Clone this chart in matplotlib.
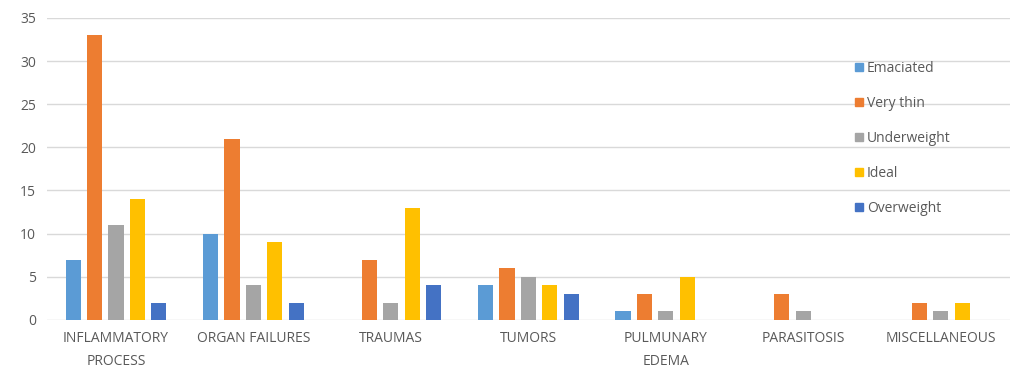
import numpy as np
import matplotlib
matplotlib.use("Agg")
import matplotlib.pyplot as plt
from matplotlib.lines import Line2D

categories = ["INFLAMMATORY\nPROCESS", "ORGAN FAILURES", "TRAUMAS", "TUMORS",
              "PULMUNARY\nEDEMA", "PARASITOSIS", "MISCELLANEOUS"]
series_names = ["Emaciated", "Very thin", "Underweight", "Ideal", "Overweight"]
emaciated = [7, 10, 0, 4, 1, 0, 0]
very_thin = [33, 21, 7, 6, 3, 3, 2]
underweight = [11, 4, 2, 5, 1, 1, 1]
ideal = [14, 9, 13, 4, 5, 0, 2]
overweight = [2, 2, 4, 3, 0, 0, 0]
colors = ["#5B9BD5", "#ED7D31", "#A5A5A5", "#FFC000", "#4472C4"]

plt.rcParams["font.family"] = ["Open Sans", "DejaVu Sans"]
text_color = "#595959"

fig = plt.figure(figsize=(10.27, 3.72), dpi=100)
ax = fig.add_axes([0.046, 0.140, 0.937, 0.812])

x = np.arange(len(categories))
pitch = 0.156
width = 0.11
all_series = [emaciated, very_thin, underweight, ideal, overweight]
for i, vals in enumerate(all_series):
    ax.bar(x + (i - 2) * pitch, vals, width, color=colors[i], zorder=3)

ax.set_xlim(-0.5, len(categories) - 0.5)
ax.set_ylim(0, 35)
ax.set_yticks(range(0, 36, 5))
ax.yaxis.grid(True, color="#D9D9D9", linewidth=1, zorder=0)
for s in ax.spines.values():
    s.set_visible(False)
ax.tick_params(length=0, labelsize=10, colors=text_color)
ax.tick_params(axis="y", pad=8)
ax.tick_params(axis="x", pad=8)
ax.set_xticks(x)
ax.set_xticklabels(categories, linespacing=1.75)

handles = [Line2D([], [], marker="s", linestyle="", markersize=6,
                  markerfacecolor=c, markeredgecolor=c) for c in colors]
leg = ax.legend(handles, series_names, loc="upper left",
                bbox_to_anchor=(0.823, 0.9), frameon=False, fontsize=10,
                labelspacing=1.45, handletextpad=0.1, handlelength=1.0,
                labelcolor=text_color)

fig.savefig("out.png", dpi=100)
